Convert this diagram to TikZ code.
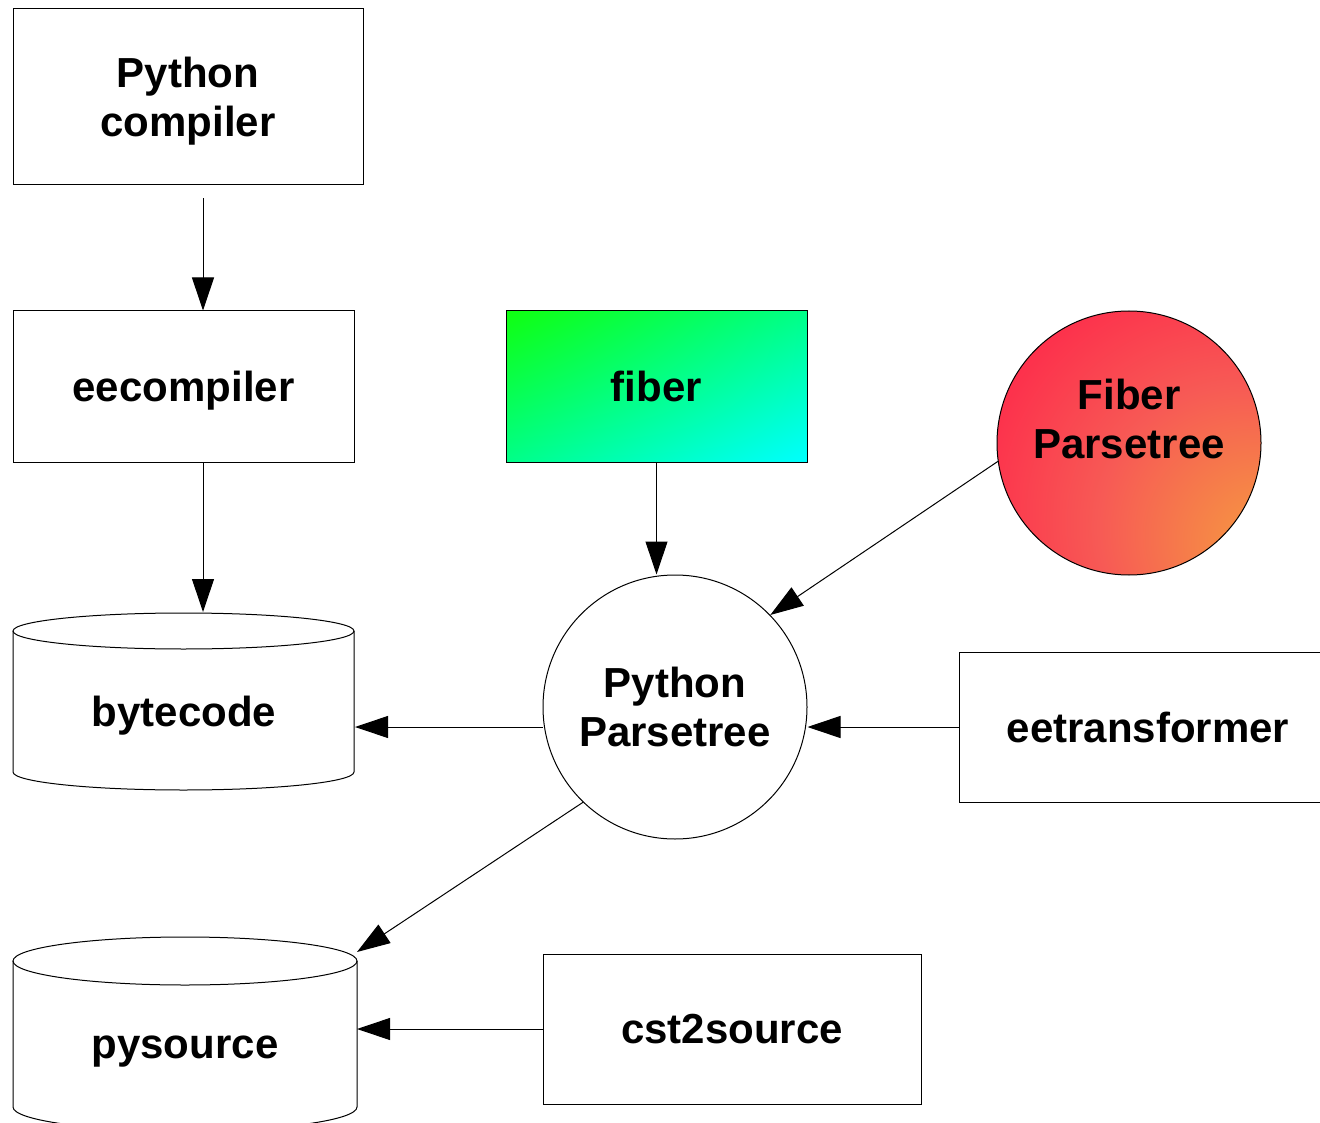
\documentclass[tikz,border=0pt]{standalone}
\usepackage{fontspec}
\setmainfont{Liberation Sans}
\usetikzlibrary{arrows.meta, calc, shadings}

\definecolor{fibgreen}{HTML}{10FF10}
\definecolor{fibmid}{HTML}{00FF88}
\definecolor{fibcyan}{HTML}{00FFFF}
\definecolor{fporange}{HTML}{F5A23E}
\definecolor{fpsalmon}{HTML}{F75A55}
\definecolor{fpred}{HTML}{FF2048}
\pgfdeclareradialshading{fibershade}{\pgfpoint{29bp}{-22bp}}{color(0bp)=(fporange); color(27bp)=(fpsalmon); color(52bp)=(fpred); color(100bp)=(fpred)}

\begin{document}
\begin{tikzpicture}[x=1pt, y=-1pt, >={Triangle[length=33pt, width=22pt]},
  lbl/.style={font=\fontsize{42}{49}\selectfont\bfseries, align=center, inner sep=0pt},
  box/.style={lbl, draw, line width=1pt, text depth=0pt},
  line/.style={line width=1pt}]
  \useasboundingbox (0,0) rectangle (1320,1123);
  \clip (0,0) rectangle (1320,1123);

  % boxes
  \node [box, minimum width=350pt, minimum height=176pt] (pycomp) at (188,97) {Python\\compiler};
  \node [box, minimum width=341pt, minimum height=151pt] (eecomp) at (183.5,386.5) {eecompiler};
  \node [box, minimum width=301pt, minimum height=151pt, upper left=fibgreen, upper right=fibmid,
         lower left=fibmid, lower right=fibcyan] (fiber) at (656.5,386.5) {fiber};
  \node [box, minimum width=378pt, minimum height=150pt] (eetrans) at (1148,727) {eetransformer};
  \node [box, minimum width=378pt, minimum height=150pt] (cst) at (732,1029) {cst2source};

  % parse trees
  \node [box, circle, minimum size=264pt] (pytree) at (675,707) {Python\\Parsetree};
  \node [box, circle, minimum size=264pt, shade, shading=fibershade] (fibtree) at (1129,443) {};
  \node [lbl] (fibtext) at (1129,419) {Fiber\\Parsetree};

  % cylinders
  \draw [line, fill=white] (13,631) -- (13,772) arc [start angle=180, end angle=0, x radius=170.5, y radius=18] -- (354,631);
  \draw [line] (183.5,631) ellipse [x radius=170.5, y radius=18];
  \node [lbl] (bytecode) at (184,716) {bytecode};
  \coordinate (bytecode-top) at (203,612);
  \coordinate (bytecode-side) at (355,727);

  \draw [line, fill=white] (13,961) -- (13,1107) arc [start angle=180, end angle=0, x radius=172, y radius=24] -- (357,961);
  \draw [line] (185,961) ellipse [x radius=172, y radius=24];
  \node [lbl] (pysource) at (185,1052) {pysource};
  \coordinate (pysource-top) at (357,952);
  \coordinate (pysource-side) at (357,1029);

  % connectors
  \draw [line, ->] ([xshift=15pt, yshift=-13pt]pycomp.south) -- ([xshift=19.5pt]eecomp.north);
  \draw [line, ->] ([xshift=19.5pt]eecomp.south) -- (bytecode-top);
  \draw [line, ->] (fiber.south) -- (fiber.south |- pytree.north);
  \draw [line, ->] (fibtree.188) -- (pytree.44);
  \draw [line, ->] (eetrans.west) -- (eetrans.west -| pytree.east);
  \draw [line, ->] (pytree.west |- eetrans.west) -- (bytecode-side);
  \draw [line, ->] (pytree.226) -- (pysource-top);
  \draw [line, ->] (cst.west) -- (pysource-side);
\end{tikzpicture}
\end{document}
